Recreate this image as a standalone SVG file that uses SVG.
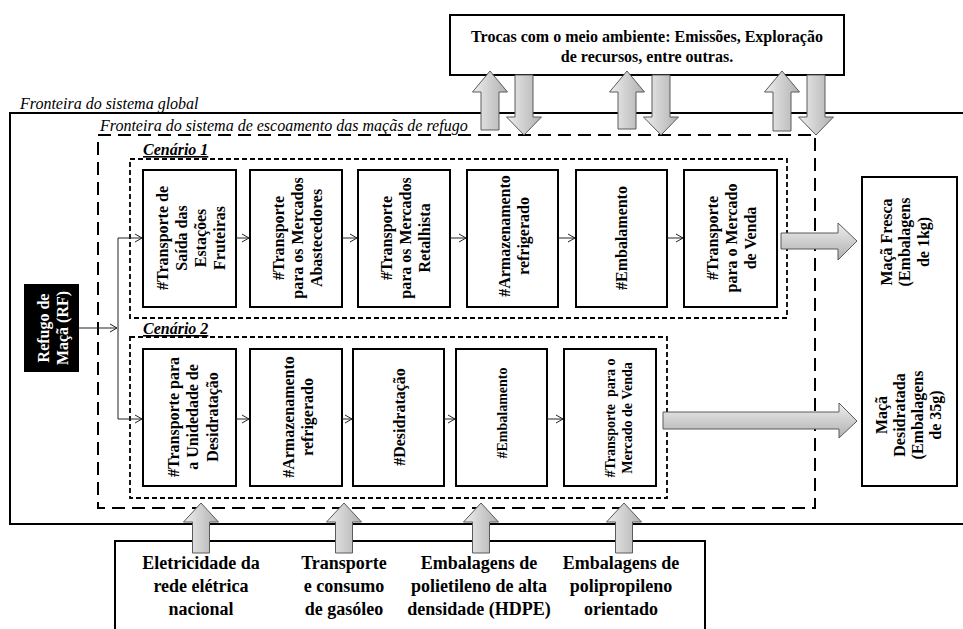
<svg xmlns="http://www.w3.org/2000/svg" width="963" height="629" viewBox="0 0 963 629">
<defs>
<style>
.box{fill:#fff;stroke:#000;stroke-width:2}
.t{font-family:"Liberation Serif","Times New Roman",serif;font-weight:bold;font-size:16px;text-anchor:middle;fill:#000}
.b{font-family:"Liberation Serif","Times New Roman",serif;font-weight:bold;font-size:18px;text-anchor:middle;fill:#000}
.it{font-family:"Liberation Serif","Times New Roman",serif;font-style:italic;font-size:16px;fill:#000}
.cen{font-family:"Liberation Serif","Times New Roman",serif;font-style:italic;font-weight:bold;font-size:16px;fill:#000;text-decoration:underline}
.conn{stroke:#222;stroke-width:1;fill:none;marker-end:url(#open)}
.bv{fill:url(#gv);stroke:#5a5a5a;stroke-width:1}
.bh{fill:url(#gh);stroke:#5a5a5a;stroke-width:1}
.outer{fill:none;stroke:#000;stroke-width:2;stroke-dasharray:13 7}
.scen{fill:none;stroke:#000;stroke-width:1.8;stroke-dasharray:5 3}
</style>
<linearGradient id="gv" x1="0" y1="0" x2="1" y2="0">
<stop offset="0" stop-color="#eeeeee"/><stop offset="1" stop-color="#b0b0b0"/>
</linearGradient>
<linearGradient id="gh" x1="0" y1="0" x2="0" y2="1">
<stop offset="0" stop-color="#eeeeee"/><stop offset="1" stop-color="#b0b0b0"/>
</linearGradient>
<marker id="open" markerUnits="userSpaceOnUse" markerWidth="10" markerHeight="10" refX="8" refY="5" orient="auto">
<path d="M1,1 L8,5 L1,9" fill="none" stroke="#222" stroke-width="1"/>
</marker>
</defs>
<rect width="963" height="629" fill="#fff"/>

<g id="boundaries">
<path d="M963,113 H10 V524 H963" fill="none" stroke="#000" stroke-width="2"/>
<text class="it" x="20" y="109">Fronteira do sistema global</text>
<rect class="outer" x="98" y="135" width="717" height="373"/>
<text class="it" x="100" y="131">Fronteira do sistema de escoamento das maçãs de refugo</text>
<rect class="scen" x="130" y="159" width="657" height="159"/>
<text class="cen" x="143" y="155">Cenário 1</text>
<rect class="scen" x="130" y="337" width="537" height="161"/>
<text class="cen" x="143" y="334">Cenário 2</text>
</g>

<g id="env">
<rect class="box" x="450" y="15" width="394" height="60"/>
<text class="t" x="647" y="42">Trocas com o meio ambiente: Emissões, Exploração</text>
<text class="t" x="647" y="62">de recursos, entre outras.</text>
</g>

<g id="refugo">
<rect x="24" y="284" width="55" height="88" fill="#000"/>
<text class="t" transform="translate(52 328) rotate(-90) scale(1 1.1)" style="fill:#fff"><tspan x="0" y="-2.6">Refugo de</tspan><tspan x="0" y="14.7">Maçã (RF)</tspan></text>
</g>

<g id="s1n1">
<rect class="box" x="143" y="170" width="93" height="137"/>
<text class="t" transform="translate(190 238) rotate(-90) scale(1 1.1)"><tspan x="0" y="-20.3">#Transporte de</tspan><tspan x="0" y="-3">Saída das</tspan><tspan x="0" y="14.2">Estações</tspan><tspan x="0" y="31.5">Fruteiras</tspan></text>
</g>
<g id="s1n2">
<rect class="box" x="250" y="170" width="92" height="137"/>
<text class="t" transform="translate(297 238) rotate(-90) scale(1 1.1)"><tspan x="0" y="-11.7">#Transporte</tspan><tspan x="0" y="5.6">para os Mercados</tspan><tspan x="0" y="22.9">Abastecedores</tspan></text>
</g>
<g id="s1n3">
<rect class="box" x="358" y="170" width="92" height="137"/>
<text class="t" transform="translate(405 238) rotate(-90) scale(1 1.1)"><tspan x="0" y="-11.7">#Transporte</tspan><tspan x="0" y="5.6">para os Mercados</tspan><tspan x="0" y="22.9">Retalhista</tspan></text>
</g>
<g id="s1n4">
<rect class="box" x="467" y="170" width="91" height="137"/>
<text class="t" transform="translate(513 236) rotate(-90) scale(1 1.1)"><tspan x="0" y="-3">#Armazenamento</tspan><tspan x="0" y="14.2">refrigerado</tspan></text>
</g>
<g id="s1n5">
<rect class="box" x="576" y="170" width="91" height="137"/>
<text class="t" transform="translate(621 238) rotate(-90) scale(1 1.1)"><tspan x="0" y="5.6">#Embalamento</tspan></text>
</g>
<g id="s1n6">
<rect class="box" x="684" y="170" width="93" height="137"/>
<text class="t" transform="translate(731 238) rotate(-90) scale(1 1.1)"><tspan x="0" y="-11.7">#Transporte</tspan><tspan x="0" y="5.6">para o Mercado</tspan><tspan x="0" y="22.9">de Venda</tspan></text>
</g>

<g id="s2n1">
<rect class="box" x="143" y="349" width="93" height="137"/>
<text class="t" transform="translate(192 417) rotate(-90) scale(1 1.1)"><tspan x="0" y="-12.1">#Transporte para</tspan><tspan x="0" y="5.6">a Unidedade de</tspan><tspan x="0" y="23.3">Desidratação</tspan></text>
</g>
<g id="s2n2">
<rect class="box" x="250" y="349" width="92" height="137"/>
<text class="t" transform="translate(297 417) rotate(-90) scale(1 1.1)"><tspan x="0" y="-3">#Armazenamento</tspan><tspan x="0" y="14.2">refrigerado</tspan></text>
</g>
<g id="s2n3">
<rect class="box" x="353" y="349" width="91" height="137"/>
<text class="t" transform="translate(399 417) rotate(-90) scale(1 1.1)"><tspan x="0" y="5.6">#Desidratação</tspan></text>
</g>
<g id="s2n4">
<rect class="box" x="456" y="349" width="91" height="137"/>
<text class="t" transform="translate(502 413) rotate(-90) scale(1 1.1)" style="font-size:14px"><tspan x="0" y="4.9">#Embalamento</tspan></text>
</g>
<g id="s2n5">
<rect class="box" x="564" y="349" width="92" height="137"/>
<text class="t" transform="translate(618 418) rotate(-90) scale(1 1.1)" style="font-size:14px" xml:space="preserve"><tspan x="0" y="-2.8">#Transporte  para o</tspan><tspan x="0" y="12.6">Mercado de Venda</tspan></text>
</g>

<g id="outputs">
<rect class="box" x="862" y="177" width="95" height="309"/>
<text class="t" transform="translate(904 242) rotate(-90) scale(1 1.1)"><tspan x="0" y="-11.2">Maçã Fresca</tspan><tspan x="0" y="5.6">(Embalagens</tspan><tspan x="0" y="22.4">de 1kg)</tspan></text>
<text class="t" transform="translate(908 415) rotate(-90) scale(1 1.1)"><tspan x="0" y="-18.9">Maçã</tspan><tspan x="0" y="-2.6">Desidratada</tspan><tspan x="0" y="13.8">(Embalagens</tspan><tspan x="0" y="30.1">de 35g)</tspan></text>
</g>

<g id="inputs">
<rect class="box" x="115" y="541" width="590" height="100"/>
<text class="b" x="201" y="569">Eletricidade da</text>
<text class="b" x="201" y="592">rede elétrica</text>
<text class="b" x="201" y="615">nacional</text>
<text class="b" x="344" y="569">Transporte</text>
<text class="b" x="344" y="592">e consumo</text>
<text class="b" x="344" y="615">de gasóleo</text>
<text class="b" x="479" y="569">Embalagens de</text>
<text class="b" x="479" y="592">polietileno de alta</text>
<text class="b" x="479" y="615">densidade (HDPE)</text>
<text class="b" x="621" y="569">Embalagens de</text>
<text class="b" x="621" y="592">polipropileno</text>
<text class="b" x="621" y="615">orientado</text>
</g>

<g id="connectors">
<path class="conn" d="M79,328 H117"/>
<path d="M118,238 V419" fill="none" stroke="#222" stroke-width="1"/>
<path class="conn" d="M118,238 H142"/>
<path class="conn" d="M118,419 H142"/>
<path class="conn" d="M236,238 H249"/>
<path class="conn" d="M342,238 H357"/>
<path class="conn" d="M450,238 H466"/>
<path class="conn" d="M558,238 H575"/>
<path class="conn" d="M667,238 H683"/>
<path class="conn" d="M236,419 H249"/>
<path class="conn" d="M342,419 H352"/>
<path class="conn" d="M444,419 H455"/>
<path class="conn" d="M547,419 H563"/>
<path class="bv" d="M490,71 L507.5,92 L499,92 L499,130 L481,130 L481,92 L472.5,92 Z"/>
<path class="bv" d="M627,71 L644.5,92 L636,92 L636,129 L618,129 L618,92 L609.5,92 Z"/>
<path class="bv" d="M782,71 L799.5,92 L791,92 L791,131 L773,131 L773,92 L764.5,92 Z"/>
<path class="bv" d="M515,75 L533,75 L533,117 L541.5,117 L524,135 L506.5,117 L515,117 Z"/>
<path class="bv" d="M652,75 L670,75 L670,117 L678.5,117 L661,135 L643.5,117 L652,117 Z"/>
<path class="bv" d="M807,75 L825,75 L825,117 L833.5,117 L816,135 L798.5,117 L807,117 Z"/>
<path class="bv" d="M201,503 L218.5,522 L209.5,522 L209.5,553 L192.5,553 L192.5,522 L183.5,522 Z"/>
<path class="bv" d="M344,503 L361.5,522 L352.5,522 L352.5,553 L335.5,553 L335.5,522 L326.5,522 Z"/>
<path class="bv" d="M481,503 L498.5,522 L489.5,522 L489.5,553 L472.5,553 L472.5,522 L463.5,522 Z"/>
<path class="bv" d="M624,503 L641.5,522 L632.5,522 L632.5,553 L615.5,553 L615.5,522 L606.5,522 Z"/>
<path class="bh" d="M781,233 L838,233 L838,223 L857,241 L838,260 L838,249 L781,249 Z"/>
<path class="bh" d="M663,412 L839,412 L839,403 L857,421 L839,438 L839,429 L663,429 Z"/>
</g>
</svg>
